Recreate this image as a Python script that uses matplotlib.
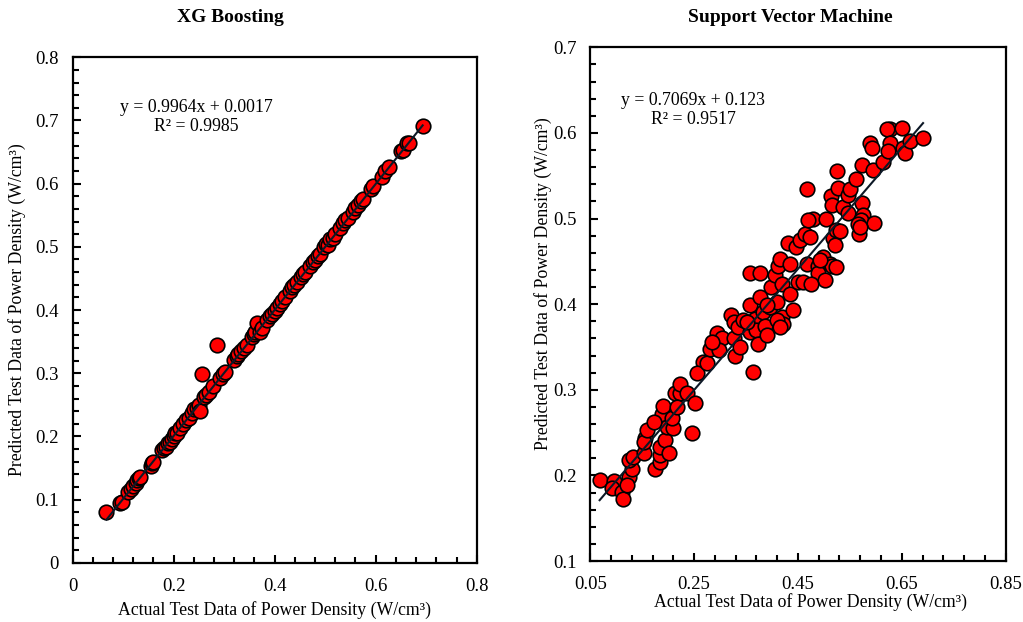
import matplotlib

matplotlib.use("Agg")
import matplotlib.pyplot as plt
import numpy as np
from matplotlib.ticker import MultipleLocator, FuncFormatter

plt.rcParams["font.family"] = ["Liberation Serif", "DejaVu Serif"]

# XG Boosting: actual vs predicted
xgb_actual = [0.067, 0.093, 0.097, 0.110, 0.115, 0.120, 0.125, 0.128, 0.132, 0.134,
              0.155, 0.158, 0.160, 0.176, 0.180, 0.184, 0.188, 0.192, 0.196, 0.200,
              0.203, 0.207, 0.212, 0.218, 0.224, 0.230, 0.236, 0.240, 0.246, 0.250,
              0.252, 0.256, 0.260, 0.265, 0.270, 0.278, 0.285, 0.292, 0.298, 0.302,
              0.320, 0.325, 0.328, 0.334, 0.340, 0.345, 0.355, 0.360, 0.362, 0.365,
              0.370, 0.374, 0.385, 0.390, 0.395, 0.400, 0.405, 0.410, 0.415, 0.420,
              0.430, 0.435, 0.438, 0.445, 0.452, 0.456, 0.460, 0.470, 0.475, 0.480,
              0.485, 0.490, 0.498, 0.502, 0.506, 0.510, 0.515, 0.520, 0.530, 0.535,
              0.540, 0.545, 0.555, 0.560, 0.565, 0.570, 0.575, 0.590, 0.595, 0.612,
              0.618, 0.626, 0.650, 0.655, 0.662, 0.666, 0.693]
xgb_pred = [0.080, 0.094, 0.096, 0.112, 0.117, 0.121, 0.126, 0.131, 0.134, 0.136,
            0.154, 0.158, 0.160, 0.178, 0.181, 0.183, 0.190, 0.192, 0.196, 0.201,
            0.205, 0.206, 0.214, 0.219, 0.226, 0.229, 0.237, 0.243, 0.245, 0.250,
            0.241, 0.299, 0.262, 0.266, 0.271, 0.280, 0.344, 0.293, 0.299, 0.302,
            0.321, 0.327, 0.330, 0.336, 0.340, 0.345, 0.358, 0.362, 0.365, 0.380,
            0.366, 0.372, 0.385, 0.391, 0.394, 0.399, 0.404, 0.410, 0.414, 0.420,
            0.430, 0.437, 0.440, 0.444, 0.452, 0.457, 0.461, 0.470, 0.476, 0.479,
            0.486, 0.488, 0.500, 0.505, 0.503, 0.512, 0.514, 0.521, 0.530, 0.537,
            0.543, 0.546, 0.555, 0.562, 0.566, 0.572, 0.576, 0.591, 0.596, 0.611,
            0.620, 0.627, 0.651, 0.654, 0.664, 0.665, 0.691]
xgb_fit = (0.9964, 0.0017)
xgb_eq = "y = 0.9964x + 0.0017\nR² = 0.9985"

# Support Vector Machine: actual vs predicted
svm_actual = [0.068, 0.095, 0.092, 0.111, 0.114, 0.124, 0.121, 0.130, 0.124, 0.133,
              0.153, 0.156, 0.153, 0.159, 0.175, 0.185, 0.185, 0.185, 0.194, 0.201,
              0.188, 0.191, 0.197, 0.210, 0.207, 0.213, 0.223, 0.223, 0.236, 0.252,
              0.246, 0.217, 0.172, 0.268, 0.255, 0.274, 0.281, 0.294, 0.303, 0.297,
              0.284, 0.322, 0.326, 0.326, 0.329, 0.335, 0.338, 0.345, 0.358, 0.358,
              0.367, 0.370, 0.374, 0.377, 0.383, 0.386, 0.390, 0.396, 0.399, 0.406,
              0.409, 0.412, 0.415, 0.419, 0.419, 0.422, 0.431, 0.435, 0.435, 0.441,
              0.447, 0.451, 0.454, 0.463, 0.460, 0.467, 0.473, 0.479, 0.470, 0.467,
              0.489, 0.489, 0.499, 0.502, 0.504, 0.512, 0.515, 0.513, 0.515, 0.518,
              0.521, 0.524, 0.531, 0.524, 0.526, 0.528, 0.537, 0.547, 0.550, 0.547,
              0.562, 0.574, 0.594, 0.613, 0.574, 0.576, 0.572, 0.566, 0.568, 0.596,
              0.570, 0.589, 0.592, 0.627, 0.621, 0.651, 0.627, 0.624, 0.653, 0.656,
              0.665, 0.691, 0.358, 0.377, 0.364, 0.351, 0.476, 0.492, 0.390, 0.409,
              0.415]
svm_pred = [0.195, 0.193, 0.185, 0.181, 0.173, 0.198, 0.189, 0.208, 0.218, 0.221,
            0.226, 0.244, 0.239, 0.253, 0.208, 0.216, 0.224, 0.233, 0.241, 0.226,
            0.272, 0.281, 0.257, 0.255, 0.267, 0.296, 0.296, 0.307, 0.296, 0.284,
            0.250, 0.280, 0.262, 0.333, 0.320, 0.331, 0.348, 0.366, 0.360, 0.346,
            0.356, 0.387, 0.379, 0.360, 0.340, 0.373, 0.350, 0.381, 0.399, 0.368,
            0.383, 0.370, 0.354, 0.408, 0.391, 0.375, 0.364, 0.397, 0.420, 0.434,
            0.403, 0.445, 0.453, 0.424, 0.385, 0.377, 0.471, 0.447, 0.412, 0.393,
            0.467, 0.426, 0.475, 0.482, 0.426, 0.447, 0.479, 0.500, 0.498, 0.534,
            0.445, 0.436, 0.455, 0.428, 0.499, 0.447, 0.445, 0.526, 0.516, 0.477,
            0.469, 0.487, 0.486, 0.443, 0.556, 0.536, 0.513, 0.528, 0.535, 0.507,
            0.546, 0.562, 0.557, 0.566, 0.518, 0.504, 0.498, 0.494, 0.482, 0.495,
            0.490, 0.588, 0.582, 0.605, 0.605, 0.606, 0.588, 0.579, 0.582, 0.577,
            0.591, 0.594, 0.436, 0.436, 0.321, 0.379, 0.424, 0.451, 0.399, 0.381,
            0.373]
svm_fit = (0.7069, 0.123)
svm_eq = "y = 0.7069x + 0.123\nR² = 0.9517"

xlabel = "Actual Test Data of Power Density (W/cm³)"
ylabel = "Predicted Test Data of Power Density (W/cm³)"


def style_axis(ax, xlim, ylim, xmaj, xmin, ymaj, ymin):
    ax.set_xlim(*xlim)
    ax.set_ylim(*ylim)
    # ticks start at the lower limit (0.05, 0.25, ... on the SVM panel)
    ax.xaxis.set_major_locator(MultipleLocator(xmaj, offset=xlim[0]))
    ax.xaxis.set_minor_locator(MultipleLocator(xmin, offset=xlim[0]))
    ax.yaxis.set_major_locator(MultipleLocator(ymaj, offset=ylim[0]))
    ax.yaxis.set_minor_locator(MultipleLocator(ymin, offset=ylim[0]))
    fmt = FuncFormatter(lambda v, _: f"{v:.2f}".rstrip("0").rstrip(".") if abs(v) > 1e-9 else "0")
    ax.xaxis.set_major_formatter(fmt)
    ax.yaxis.set_major_formatter(fmt)
    ax.tick_params(which="major", direction="in", length=6, width=1.5, labelsize=13.5, pad=10)
    ax.tick_params(which="minor", direction="in", length=4.5, width=1.5)
    ax.tick_params(axis="x", which="major", pad=11)
    for s in ax.spines.values():
        s.set_linewidth(1.6)


def panel(ax, actual, pred, fit):
    ax.scatter(actual, pred, s=110, facecolor="#ff0000", edgecolor="black",
               linewidth=1.2, zorder=2)
    xs = np.array([min(actual), max(actual)])
    ax.plot(xs, np.polyval(fit, xs), color="#0d1826", lw=1.5, zorder=3)


fig = plt.figure(figsize=(10.23, 6.22), dpi=100)
axL = fig.add_axes([0.071, 0.095, 0.395, 0.813])
axR = fig.add_axes([0.577, 0.098, 0.406, 0.826])

panel(axL, xgb_actual, xgb_pred, xgb_fit)
style_axis(axL, (0, 0.8), (0, 0.8), 0.2, 0.04, 0.1, 0.02)
axL.set_xlabel(xlabel, fontsize=12.8)
axL.xaxis.set_label_coords(0.5, -0.075)
axL.set_ylabel(ylabel, fontsize=12.8)
axL.yaxis.set_label_coords(-0.115, 0.5)

panel(axR, svm_actual, svm_pred, svm_fit)
style_axis(axR, (0.05, 0.85), (0.1, 0.7), 0.2, 0.04, 0.1, 0.02)
axR.set_xlabel(xlabel, fontsize=12.8)
axR.xaxis.set_label_coords(0.53, -0.062)
axR.set_ylabel(ylabel, fontsize=12.8)
axR.yaxis.set_label_coords(-0.092, 0.54)

fig.text(230 / 1023, 1 - 17 / 622, "XG Boosting", ha="center", va="center",
         fontsize=14, fontweight="bold")
fig.text(790 / 1023, 1 - 17 / 622, "Support Vector Machine", ha="center", va="center",
         fontsize=14, fontweight="bold")
fig.text(196 / 1023, 1 - 117 / 622, xgb_eq, ha="center", va="center",
         multialignment="center", fontsize=12.8, linespacing=1.1)
fig.text(693 / 1023, 1 - 110 / 622, svm_eq, ha="center", va="center",
         multialignment="center", fontsize=12.8, linespacing=1.1)

fig.savefig("out.png", dpi=100)
